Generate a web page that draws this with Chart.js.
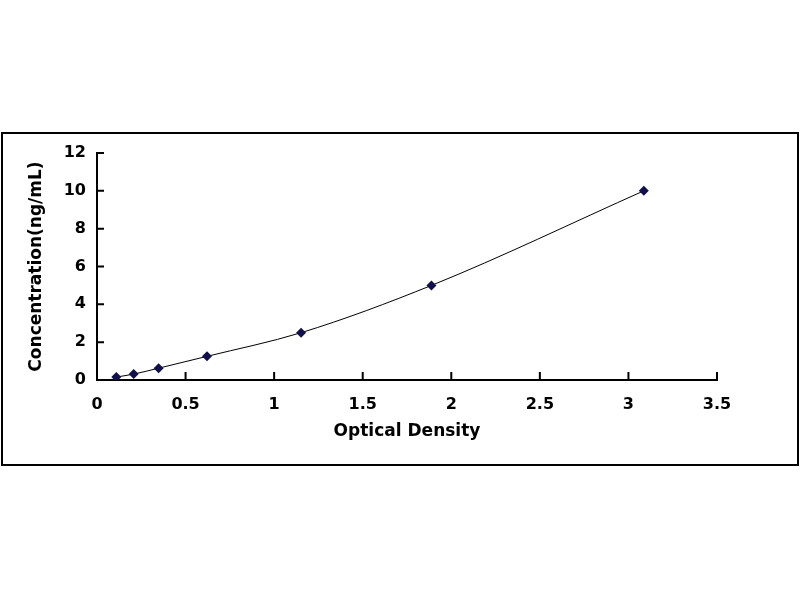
<!DOCTYPE html>
<html>
<head>
<meta charset="utf-8">
<script src="https://cdn.jsdelivr.net/npm/chart.js@4"></script>
<style>
    html, body { margin: 0; padding: 0; background: #fff; }
    #wrap { position: relative; width: 800px; height: 600px; }
    #frame {
        position: absolute; left: 1px; top: 132px; width: 798px; height: 334px;
        border: 2px solid #000; box-sizing: border-box; pointer-events: none;
    }
    #chart { position: absolute; left: 0; top: 0; }
</style>
</head>
<body>
<div id="wrap">
    <canvas id="chart" width="800" height="600"></canvas>
    <div id="frame"></div>
</div>
<script>
// standard curve readings
const opticalDensity = [0.109, 0.207, 0.348, 0.621, 1.152, 1.888, 3.087];
const concentration = [0.156, 0.312, 0.625, 1.25, 2.5, 5, 10];
const xTicks = [0, 0.5, 1, 1.5, 2, 2.5, 3, 3.5];
const yTicks = [0, 2, 4, 6, 8, 10, 12];

document.addEventListener('DOMContentLoaded', function () {
    const points = opticalDensity.map(function (x, i) {
        return { x: x, y: concentration[i] };
    });

    // ticks point into the plot area, like the original
    const innerTicks = {
        id: 'innerTicks',
        afterDraw: function (chart) {
            const ctx = chart.ctx;
            const xs = chart.scales.x;
            const ys = chart.scales.y;
            ctx.save();
            ctx.strokeStyle = '#000';
            ctx.lineWidth = 2;
            ctx.beginPath();
            xs.ticks.forEach(function (t) {
                const px = xs.getPixelForValue(t.value);
                ctx.moveTo(px, xs.top);
                ctx.lineTo(px, xs.top - 8);
            });
            ys.ticks.forEach(function (t) {
                const py = ys.getPixelForValue(t.value);
                ctx.moveTo(ys.right, py);
                ctx.lineTo(ys.right + 7, py);
            });
            ctx.stroke();
            ctx.restore();
        }
    };

    const tickFont = { family: 'DejaVu Sans', size: 16, weight: 'bold' };
    const titleFont = { family: 'DejaVu Sans', size: 17, weight: 'bold' };
    const plain = function (v) { return String(v); };

    new Chart(document.getElementById('chart').getContext('2d'), {
        type: 'line',
        data: {
            datasets: [{
                data: points,
                borderColor: '#000',
                borderWidth: 1,
                cubicInterpolationMode: 'monotone',
                pointStyle: 'rectRot',
                pointRadius: 5,
                pointBackgroundColor: '#10104a',
                pointBorderColor: '#10104a',
                pointBorderWidth: 0,
                fill: false
            }]
        },
        options: {
            responsive: false,
            animation: false,
            layout: { padding: { left: 20, right: 83, top: 153, bottom: 150 } },
            plugins: {
                legend: { display: false },
                tooltip: { enabled: false }
            },
            scales: {
                x: {
                    type: 'linear',
                    min: 0,
                    max: 3.5,
                    afterFit: function (s) { s.height = 70; },
                    afterBuildTicks: function (s) {
                        s.ticks = xTicks.map(function (v) { return { value: v }; });
                    },
                    grid: { display: false, drawTicks: false },
                    border: { display: true, color: '#000', width: 2 },
                    ticks: { color: '#000', font: tickFont, padding: 15, maxRotation: 0, callback: plain },
                    title: {
                        display: true,
                        text: 'Optical Density',
                        color: '#000',
                        font: titleFont,
                        padding: { top: 0, bottom: 8 }
                    }
                },
                y: {
                    type: 'linear',
                    min: 0,
                    max: 12,
                    afterFit: function (s) { s.width = 77; },
                    afterBuildTicks: function (s) {
                        s.ticks = yTicks.map(function (v) { return { value: v }; });
                    },
                    grid: { display: false, drawTicks: false },
                    border: { display: true, color: '#000', width: 2 },
                    ticks: { color: '#000', font: tickFont, padding: 11, callback: plain },
                    title: {
                        display: true,
                        text: 'Concentration(ng/mL)',
                        color: '#000',
                        font: titleFont,
                        padding: { top: 6, bottom: 0 }
                    }
                }
            }
        },
        plugins: [innerTicks]
    });
});
</script>
</body>
</html>
